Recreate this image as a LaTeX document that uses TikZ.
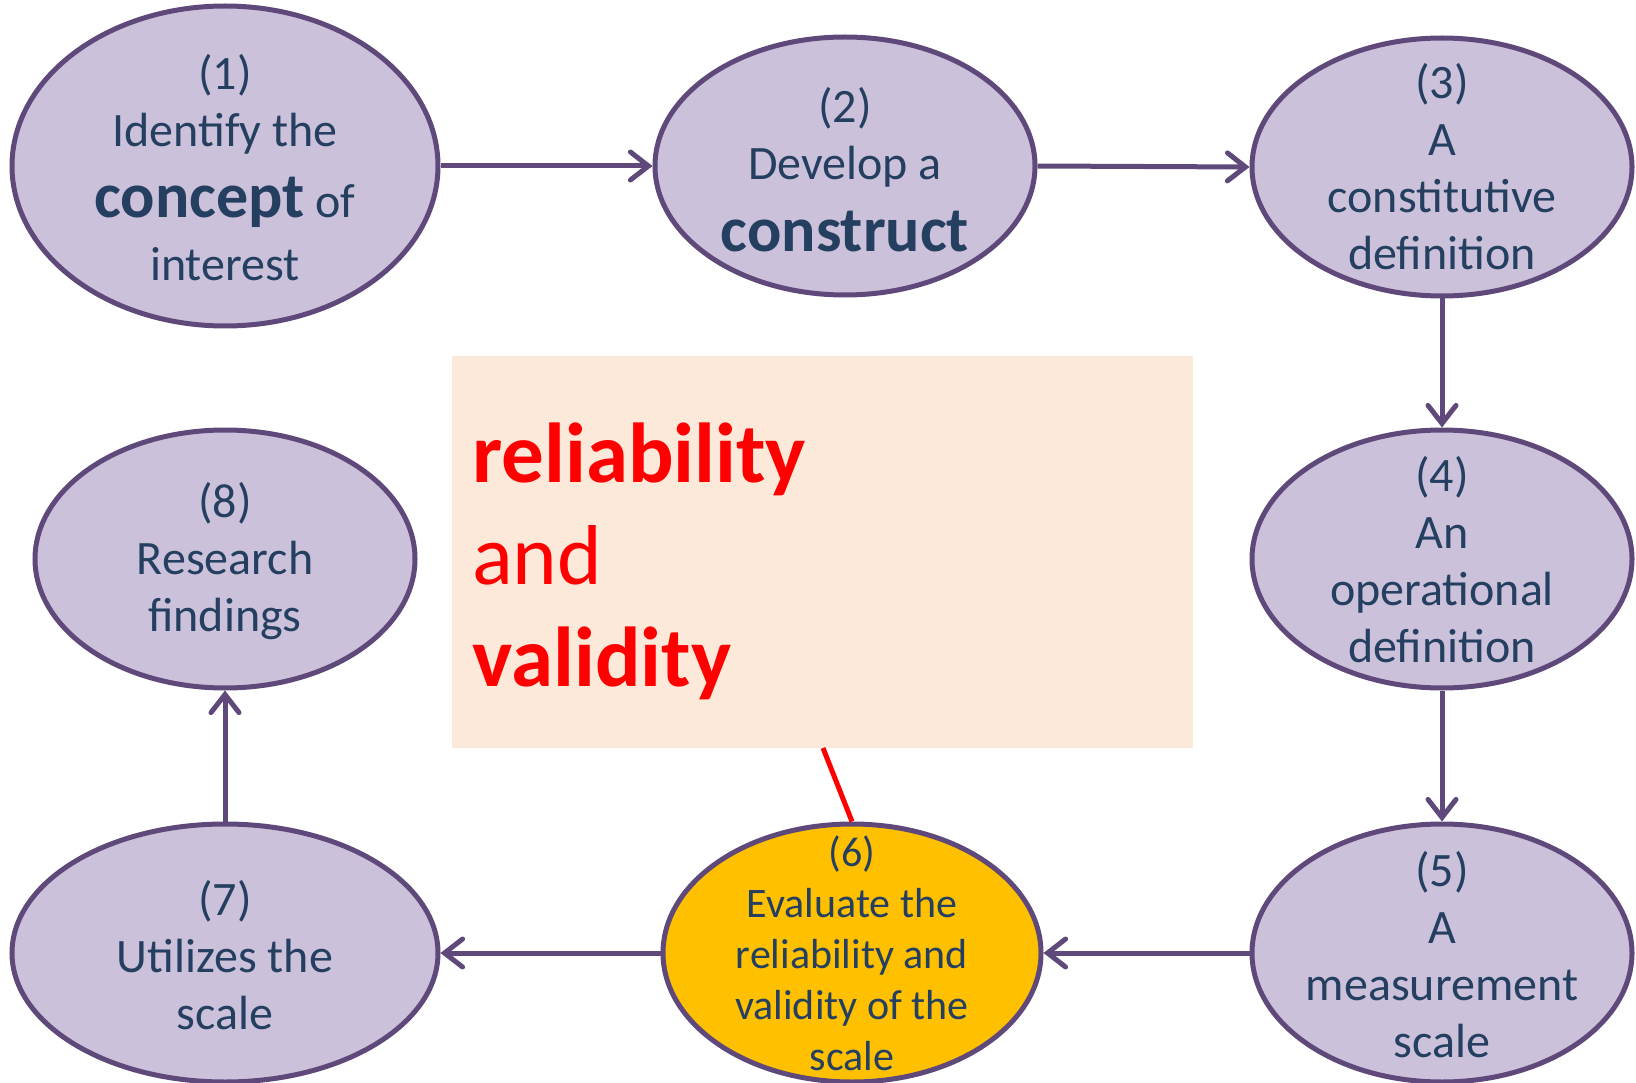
\documentclass[tikz,border=0pt]{standalone}
\usepackage{fontspec}
\setmainfont{Carlito}
\usetikzlibrary{arrows.meta,shapes.geometric}
\definecolor{lav}{HTML}{CCC1DA}
\definecolor{edge}{HTML}{5F497A}
\definecolor{txtc}{HTML}{243F60}
\definecolor{gold}{HTML}{FFC000}
\definecolor{peach}{HTML}{FCE9DA}
\definecolor{myred}{HTML}{FF0000}
\tikzset{
  oval/.style={ellipse, draw=edge, line width=5pt, fill=lav, inner sep=0pt,
    minimum width=380pt, minimum height=258pt},
  txt/.style={text=txtc, align=center, font=\fontsize{48}{57}\selectfont, inner sep=0pt},
  flow/.style={draw=edge, line width=5pt, -{Straight Barb[length=18pt,width=28pt,line width=5pt,line cap=round]}},
}
\begin{document}
\begin{tikzpicture}[x=1pt,y=-1pt]
\useasboundingbox (0,0) rectangle (1636,1083);
% box
\node[fill=peach, minimum width=741pt, minimum height=392pt, inner sep=0pt, anchor=north west] (box) at (452,356) {};
\node[anchor=north west, align=left, text=myred, inner sep=0pt,
  font=\fontsize{85}{102}\selectfont] (boxtxt) at (472,423)
  {\textbf{reliability}\\and\\\textbf{validity}};
% ellipses
\node[oval, minimum width=426pt, minimum height=320pt] (e1) at (225,166) {};
\node[oval] (e2) at (845,166) {};
\node[oval] (e3) at (1442,167) {};
\node[oval] (e4) at (1442,559) {};
\node[oval] (e5) at (1442,953) {};
\node[oval, fill=gold, minimum width=378pt] (e6) at (852,953) {};
\node[oval, minimum width=426pt] (e7) at (225,953) {};
\node[oval] (e8) at (225,559) {};
% texts
\node[txt] (t1) at (225,168) {(1)\\Identify the\\[14pt]{\fontsize{64}{67}\selectfont\bfseries concept} of\\[6pt]interest};
\node[txt] (t2) at (845,170) {(2)\\Develop a\\[15pt]{\fontsize{64}{67}\selectfont\bfseries construct}};
\node[txt] (t3) at (1442,167) {(3)\\A\\constitutive\\definition};
\node[txt] (t4) at (1442,560) {(4)\\An\\operational\\definition};
\node[txt] (t5) at (1442,955) {(5)\\A\\measurement\\scale};
\node[txt, font=\fontsize{42}{51}\selectfont] (t6) at (852,953) {(6)\\Evaluate the\\reliability and\\validity of the\\scale};
\node[txt] (t7) at (225,955) {(7)\\Utilizes the\\scale};
\node[txt] (t8) at (225,561) {(8)\\Research\\findings};
% connectors
\draw[flow] (e1.east) -- (e2.west);
\draw[flow] (e2.east) -- (e3.west);
\draw[flow] (e3.south) -- (e4.north);
\draw[flow] (e4.south) -- (e5.north);
\draw[flow] (e5.west) -- (e6.east);
\draw[flow] (e6.west) -- (e7.east);
\draw[flow] (e7.north) -- (e8.south);
\coordinate (rl) at (823,748);
\draw[myred, line width=5pt] (rl) -- (e6.north);
\end{tikzpicture}
\end{document}
